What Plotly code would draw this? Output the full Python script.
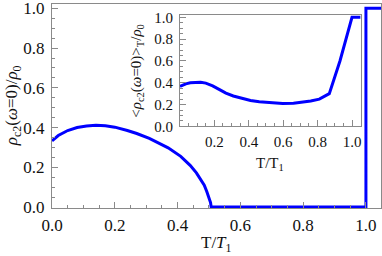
import plotly.graph_objects as go

# main curve: rho_c2(omega=0)/rho_0 vs T/T1
main_T = [0, 0.02, 0.05, 0.08, 0.11, 0.14, 0.17, 0.2, 0.24, 0.27, 0.31, 0.34, 0.37,
          0.41, 0.44, 0.46, 0.472, 0.485, 0.493, 0.5, 0.505, 0.507, 1.0, 1.0, 1.05]
main_y = [0.333, 0.36, 0.385, 0.4, 0.408, 0.411, 0.409, 0.402, 0.385, 0.37, 0.345, 0.322, 0.298,
          0.255, 0.21, 0.172, 0.145, 0.11, 0.078, 0.05, 0.022, 0.0, 0.0, 1.0, 1.0]

# inset curve: <rho_c2(omega=0)>_T / rho_0 vs T/T1
ins_T = [0, 0.034, 0.06, 0.092, 0.12, 0.15, 0.19, 0.23, 0.267, 0.31, 0.364, 0.41, 0.461,
         0.53, 0.597, 0.66, 0.713, 0.76, 0.81, 0.868, 0.93, 1.0, 1.05]
ins_y = [0.366, 0.39, 0.4, 0.405, 0.404, 0.397, 0.372, 0.337, 0.305, 0.279, 0.253, 0.238, 0.226,
         0.215, 0.21, 0.212, 0.22, 0.233, 0.25, 0.30, 0.6, 1.0, 1.0]

main_ticks = [0.0, 0.2, 0.4, 0.6, 0.8, 1.0]
main_ticklabels = ["0.0", "0.2", "0.4", "0.6", "0.8", "1.0"]
ins_xticks = [0.2, 0.4, 0.6, 0.8, 1.0]
ins_xticklabels = ["0.2", "0.4", "0.6", "0.8", "1.0"]
ins_yticks = [0.0, 0.2, 0.4, 0.6, 0.8, 1.0]
ins_yticklabels = ["0.0", "0.2", "0.4", "0.6", "0.8", "1.0"]

BLUE = "#0000ff"
FRAME = "#8a8a8a"
FONT = "Liberation Serif"

fig = go.Figure()
fig.add_trace(go.Scatter(x=main_T, y=main_y, mode="lines",
                         line=dict(color=BLUE, width=3), xaxis="x", yaxis="y",
                         showlegend=False))
fig.add_trace(go.Scatter(x=ins_T, y=ins_y, mode="lines",
                         line=dict(color=BLUE, width=3), xaxis="x2", yaxis="y2",
                         showlegend=False))

def axis_common(size):
    return dict(showgrid=False, zeroline=False, showline=True, linecolor=FRAME,
                linewidth=1, mirror=True, ticks="inside", ticklen=6, tickcolor=FRAME,
                tickwidth=1, ticklabeloverflow="allow",
                tickfont=dict(family=FONT, size=size, color="#111"),
                minor=dict(ticks="inside", ticklen=3, tickcolor=FRAME, dtick=0.05,
                           showgrid=False))

fig.update_layout(
    width=382, height=256,
    margin=dict(l=52, r=1, t=4, b=47.5, autoexpand=False),
    font=dict(family=FONT, size=16, color="#111"),
    paper_bgcolor="white", plot_bgcolor="white",
    xaxis=dict(range=[0, 1.048], tickvals=main_ticks, ticktext=main_ticklabels,
               **axis_common(17)),
    yaxis=dict(range=[-0.005, 1.022], tickvals=main_ticks, ticktext=main_ticklabels,
               **axis_common(17)),
    xaxis2=dict(domain=[0.389, 0.938], anchor="y2", range=[0, 1.05],
                tickvals=ins_xticks, ticktext=ins_xticklabels, **axis_common(15)),
    yaxis2=dict(domain=[0.400, 0.946], anchor="x2", range=[0, 1.021],
                tickvals=ins_yticks, ticktext=ins_yticklabels, **axis_common(15)),
)
fig.update_xaxes(ticklabelstandoff=2)
fig.update_yaxes(ticklabelstandoff=3)

# white background of inset
fig.add_shape(type="rect", xref="x2 domain", yref="y2 domain", x0=0, x1=1, y0=0, y1=1,
              fillcolor="white", line=dict(width=0), layer="below")

fig.add_annotation(text="T/<i>T</i><sub>1</sub>", xref="paper", yref="paper",
                   x=0.5, y=-0.175, xanchor="center", yanchor="middle", showarrow=False,
                   font=dict(family=FONT, size=17, color="#111"))
fig.add_annotation(text="<i>ρ</i><sub>c2</sub>(<i>ω</i>=0)/<i>ρ</i><sub>0</sub>",
                   xref="paper", yref="paper", x=-0.118, y=0.5, textangle=-90,
                   xanchor="center", yanchor="middle", showarrow=False,
                   font=dict(family=FONT, size=17, color="#111"))
fig.add_annotation(text="T/T<sub>1</sub>", xref="paper", yref="paper",
                   x=0.663, y=0.218, xanchor="center", yanchor="middle", showarrow=False,
                   font=dict(family=FONT, size=15, color="#111"))
fig.add_annotation(text="&lt;<i>ρ</i><sub>c2</sub>(<i>ω</i>=0)&gt;<sub>T</sub>/<i>ρ</i><sub>0</sub>",
                   xref="paper", yref="paper", x=0.258, y=0.672, textangle=-90,
                   xanchor="center", yanchor="middle", showarrow=False,
                   font=dict(family=FONT, size=15, color="#111"))

fig.write_html("out.html", config={"displayModeBar": False},
               post_script="document.body.style.margin='0';document.body.style.padding='0';")
